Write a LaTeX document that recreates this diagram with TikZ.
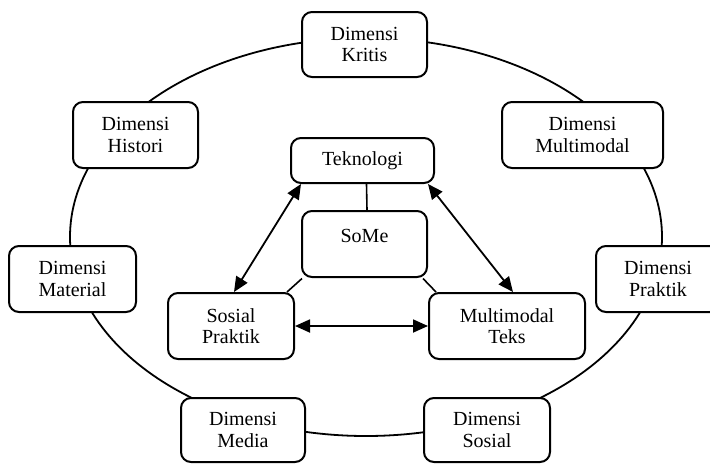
\documentclass[tikz,border=0pt]{standalone}
\usepackage{fontspec}
\setmainfont{Liberation Serif}
\usetikzlibrary{arrows.meta}
\begin{document}
\begin{tikzpicture}[x=1pt,y=-1pt,
  boxnode/.style={draw, line width=2pt, rounded corners=10pt, fill=white, align=center,
    inner sep=0pt, font=\fontsize{20}{21.5}\selectfont},
  plain/.style={line width=1.6pt},
  biarrow/.style={line width=1.8pt, {Triangle[length=15pt,width=13pt]}-{Triangle[length=15pt,width=13pt]}}]
\useasboundingbox (0,0) rectangle (710,464);
\fill[white] (0,0) rectangle (710,464);
% outer ring
\draw[line width=1.8pt] (366,237) ellipse [x radius=296, y radius=199];
% outer nodes
\node[boxnode, minimum width=125pt, minimum height=65pt] (kritis) at (364.5,44.5) {Dimensi\\Kritis};
\node[boxnode, minimum width=125pt, minimum height=66pt] (histori) at (135.5,135) {Dimensi\\Histori};
\node[boxnode, minimum width=161pt, minimum height=66pt] (dmulti) at (582.5,135) {Dimensi\\Multimodal};
\node[boxnode, minimum width=127pt, minimum height=66pt] (material) at (72.5,279) {Dimensi\\Material};
\node[boxnode, minimum width=124pt, minimum height=66pt] (praktik) at (658,279) {Dimensi\\Praktik};
\node[boxnode, minimum width=124pt, minimum height=64pt] (media) at (243,430) {Dimensi\\Media};
\node[boxnode, minimum width=126pt, minimum height=64pt] (sosial) at (487,430) {Dimensi\\Sosial};
% inner nodes
\node[boxnode, minimum width=143pt, minimum height=45pt] (tek) at (362.5,160.5) {Teknologi};
\node[boxnode, minimum width=125pt, minimum height=66pt] (some) at (364.5,244) {};
\node[font=\fontsize{20}{21.5}\selectfont, inner sep=0pt] (sometext) at (364.5,236) {SoMe};
\node[boxnode, minimum width=126pt, minimum height=66pt] (sosp) at (231,326) {Sosial\\Praktik};
\node[boxnode, minimum width=156pt, minimum height=66pt] (mteks) at (507,326) {Multimodal\\Teks};
% inner connectors
\draw[plain] ([xshift=4pt]tek.south) -- ([xshift=2.5pt]some.north);
\draw[plain] ([xshift=1pt,yshift=-0.5pt]some.south west) -- ([xshift=-8pt]sosp.north east);
\draw[plain] ([xshift=-5pt,yshift=-0.5pt]some.south east) -- ([xshift=8pt]mteks.north west);
\draw[biarrow] ([xshift=11pt]tek.south west) -- ([xshift=3pt]sosp.north);
\draw[biarrow] ([xshift=-7pt]tek.south east) -- ([xshift=6pt]mteks.north);
\draw[biarrow] (sosp) -- (mteks);
\end{tikzpicture}
\end{document}
